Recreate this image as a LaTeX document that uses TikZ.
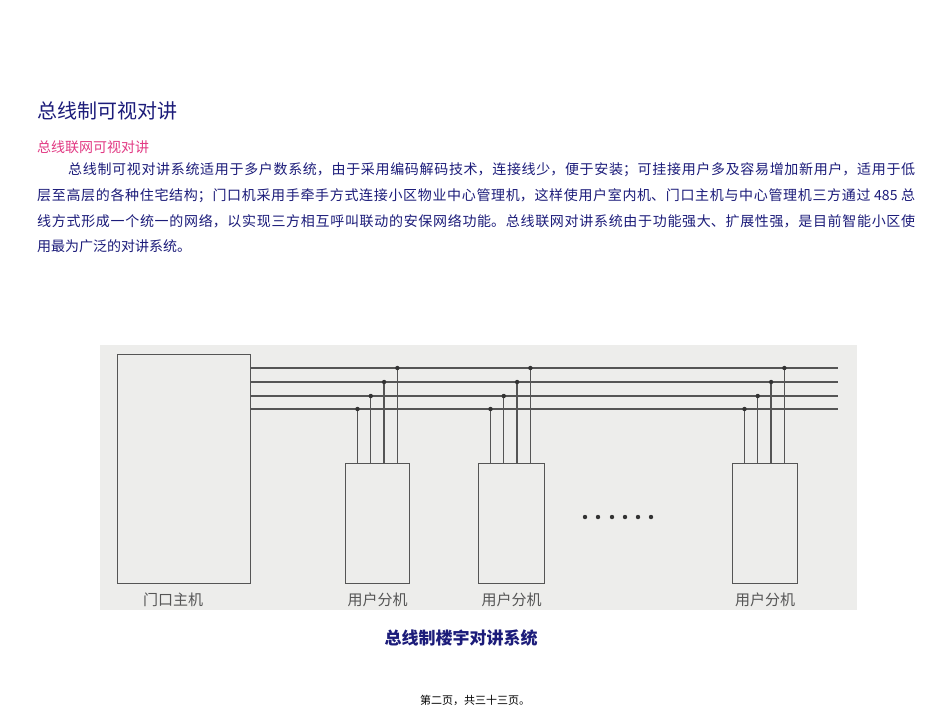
\documentclass[tikz,border=0pt]{standalone}
\usepackage{fontspec}
\usetikzlibrary{calc}
\newfontfamily\cjk{Noto Sans CJK SC}
\XeTeXlinebreaklocale "zh"
\XeTeXlinebreakskip=0pt plus 2pt
\definecolor{navy}{HTML}{1C1C7A}
\definecolor{pinkc}{HTML}{E23A84}
\definecolor{bg}{HTML}{EDEDEB}
\definecolor{ln}{HTML}{555555}
\tikzset{unit/.style={draw=ln,line width=1pt,fill=bg,inner sep=0pt},
 wire/.style={draw=ln,line width=1.3pt},
 lab/.style={font=\cjk\fontsize{15}{15}\selectfont,text=ln,inner sep=0pt},
 jl/.style={anchor=north west,inner sep=0pt,text=navy,align=justify,font=\cjk\fontsize{14}{14}\selectfont}}
\newcommand{\jline}[1]{\parfillskip=0pt #1\par}
\begin{document}
\begin{tikzpicture}[x=1pt,y=-1pt]
\useasboundingbox (0,0) rectangle (950,713);
\fill[white] (0,0) rectangle (950,713);
\node[anchor=west,text=navy,font=\cjk\fontsize{20}{20}\selectfont,inner sep=0pt] (title) at (37,111) {总线制可视对讲};
\node[anchor=west,text=pinkc,font=\cjk\fontsize{14}{14}\selectfont,inner sep=0pt] (sub) at (37,147) {总线联网可视对讲};
\node[jl,text width=847pt] (l1) at (68,162) {\jline{总线制可视对讲系统适用于多户数系统，由于采用编码解码技术，连接线少，便于安装；可挂接用户多及容易增加新用户，适用于低}};
\node[jl,text width=878pt] (l2) at (37,188) {\jline{层至高层的各种住宅结构；门口机采用手牵手方式连接小区物业中心管理机，这样使用户室内机、门口主机与中心管理机三方通过 485 总}};
\node[jl,text width=878pt] (l3) at (37,214) {\jline{线方式形成一个统一的网络，以实现三方相互呼叫联动的安保网络功能。总线联网对讲系统由于功能强大、扩展性强，是目前智能小区使}};
\node[anchor=north west,inner sep=0pt,text=navy,font=\cjk\fontsize{14}{14}\selectfont] (l4) at (37,239) {用最为广泛的对讲系统。};
% diagram
\fill[bg] (100,345) rectangle (857,610);
\node[unit,minimum width=133pt,minimum height=229pt,anchor=north west] (main) at (117,354) {};
\foreach \y [count=\i] in {368,382,396,409} {
  \coordinate (bs\i) at (250,\y); \coordinate (be\i) at (838,\y);
  \draw[wire] (bs\i) -- (be\i);
}
\foreach \n/\bx/\bw in {u1/345/64,u2/478/66,u3/732/65} {
  \node[unit,minimum width=\bw pt,minimum height=120pt,anchor=north west] (\n) at (\bx,463) {};
  \foreach \k/\y in {0/409,1/396,2/382,3/368} {
    \coordinate (t\n\k) at ($(\n.north west)+(12.5+13.3*\k,0)$);
    \coordinate (j\n\k) at (t\n\k |- 0,\y);
    \draw[wire] (t\n\k) -- (j\n\k);
    \fill[ln!60!black] (j\n\k) circle (2.2pt);
  }
  \node[lab] (l\n) at (\n.south |- 0,600) {用户分机};
}
\node[lab] (lmain) at (173,600) {门口主机};
\foreach \x in {585,598,612,625,638,651} \fill[ln!60!black] (\x,517) circle (2.2pt);
\node[text=navy,font=\cjk\bfseries\fontsize{17}{17}\selectfont,inner sep=0pt] (cap) at (461,638) {总线制楼宇对讲系统};
\node[font=\cjk\fontsize{11}{11}\selectfont,inner sep=0pt] (foot) at (475,700) {第二页，共三十三页。};
\end{tikzpicture}
\end{document}
